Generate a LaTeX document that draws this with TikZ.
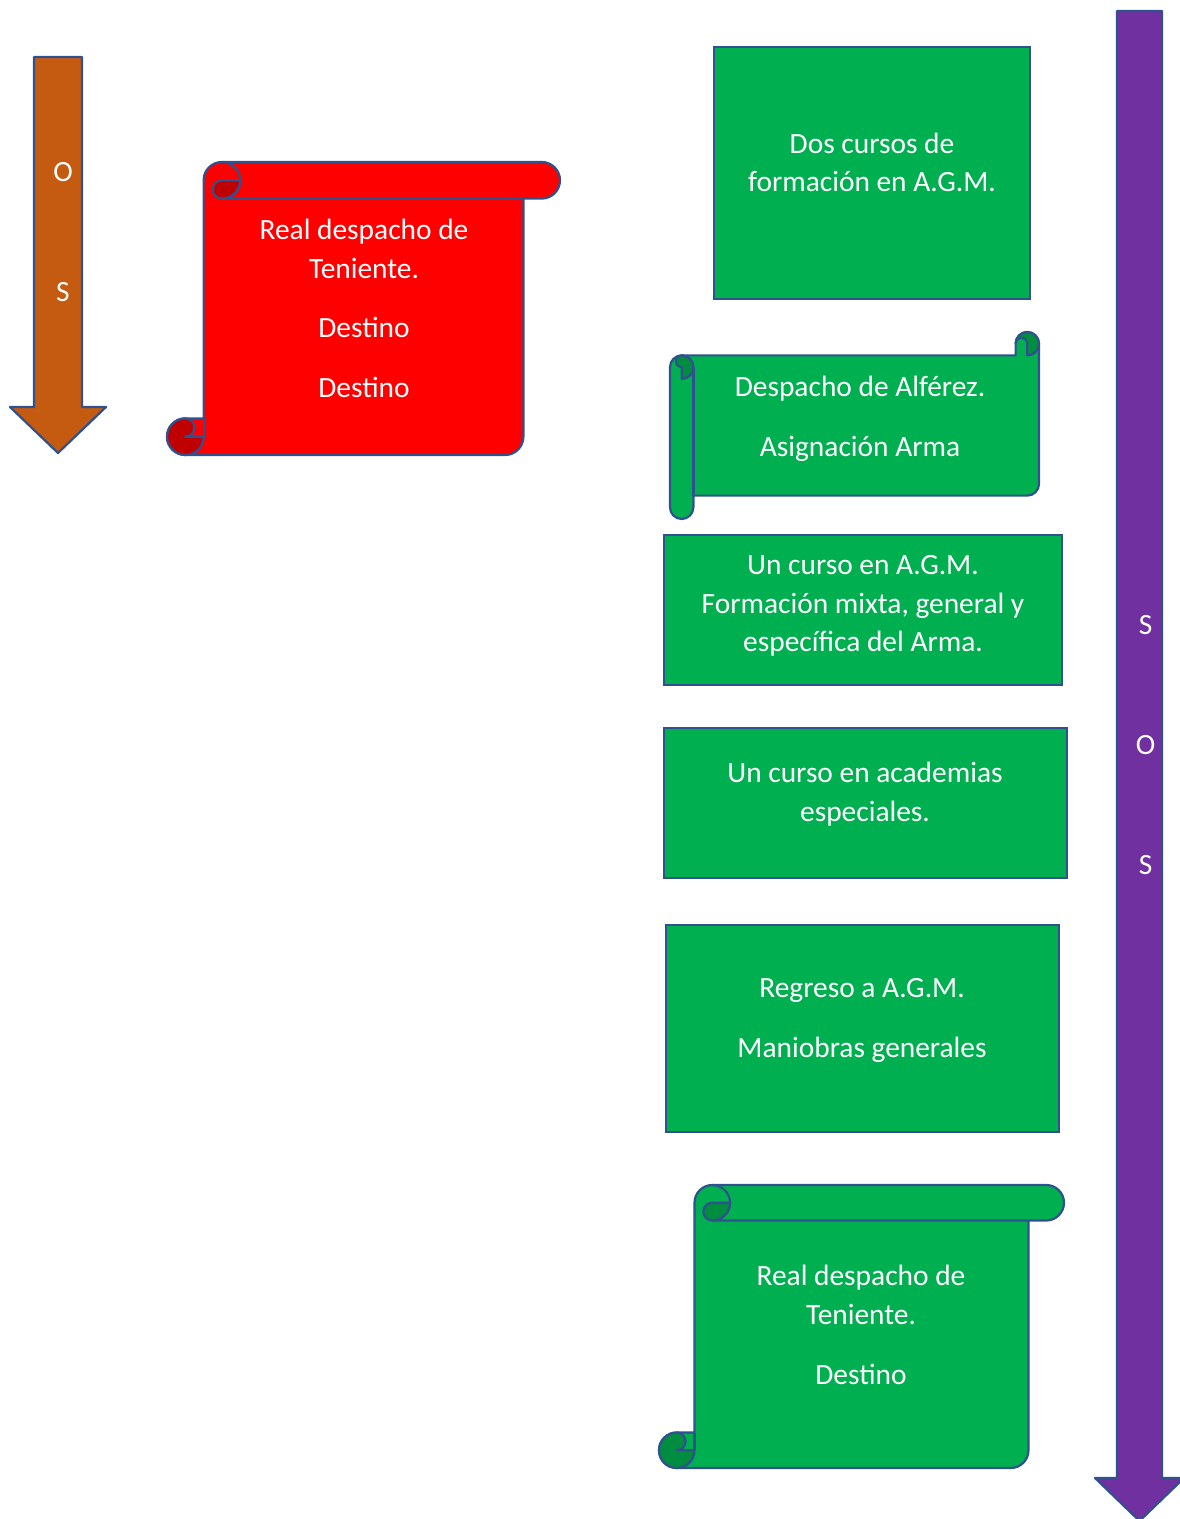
\documentclass[tikz,border=0pt]{standalone}
\usepackage{fontspec}
\setmainfont{Carlito}
\definecolor{bordc}{HTML}{2F528F}
\definecolor{grn}{HTML}{00B050}
\definecolor{grnd}{HTML}{008D40}
\definecolor{redm}{HTML}{FF0000}
\definecolor{redd}{HTML}{C00000}
\definecolor{orng}{HTML}{C55A11}
\definecolor{purp}{HTML}{7030A0}
\newcommand\VScroll[7]{%
 \pgfmathsetmacro\myL{#1}\pgfmathsetmacro\myT{#2}\pgfmathsetmacro\myR{#3}\pgfmathsetmacro\myB{#4}%
 \pgfmathsetmacro\myC{#5}\pgfmathsetmacro\myCb{#5/2}\pgfmathsetmacro\myCc{#5/4}%
 \draw[sline,fill=#6] ({\myL+\myCb},\myB) arc (90:270:\myCb) -- ({\myL+\myC},{\myB-\myC}) -- ({\myL+\myC},{\myT+\myCb}) arc (180:270:\myCb) -- ({\myR-\myCb},\myT) arc (270:450:\myCb) -- ({\myR-\myC},{\myT+\myC}) -- ({\myR-\myC},{\myB-\myCb}) arc (0:90:\myCb) -- cycle;
 \draw[sline] ({\myL+\myC+\myCb},\myT) arc (270:450:\myCb) -- ({\myR-\myC},{\myT+\myC});
 \draw[sline,fill=#7] ({\myL+2*\myC},{\myT+\myCb}) -- ({\myL+\myC+\myCb},{\myT+\myCb}) arc (270:90:\myCc) arc (90:0:\myCb) -- cycle;
 \draw[sline,fill=#7] ({\myL+\myCb},{\myB-\myC}) arc (270:0:\myCb) -- ({\myL+\myCb},{\myB-\myCb}) arc (90:-90:\myCc) -- cycle;
 \draw[sline] ({\myL+\myC},{\myB-\myC}) -- ({\myL+\myC},{\myB-\myCb});
}
\newcommand\HScroll[7]{%
 \pgfmathsetmacro\myL{#1}\pgfmathsetmacro\myT{#2}\pgfmathsetmacro\myR{#3}\pgfmathsetmacro\myB{#4}%
 \pgfmathsetmacro\myC{#5}\pgfmathsetmacro\myCb{#5/2}\pgfmathsetmacro\myCc{#5/4}%
 \draw[sline,fill=#6] (\myL,{\myB-\myCb}) -- (\myL,{\myT+\myC+\myCb}) arc (180:270:\myCb) -- ({\myR-\myC},{\myT+\myC}) -- ({\myR-\myC},{\myT+\myCb}) arc (180:360:\myCb) -- (\myR,{\myB-\myC-\myCb}) arc (0:90:\myCb) -- ({\myL+\myC},{\myB-\myC}) -- ({\myL+\myC},{\myB-\myCb}) arc (0:180:\myCb) -- cycle;
 \draw[sline] ({\myL+\myCb},{\myT+\myC}) arc (270:450:\myCb);
 \draw[sline] ({\myL+\myC},{\myT+\myC+\myCb}) -- ({\myL+\myC},{\myB-\myC});
 \draw[sline,fill=#7] ({\myL+\myCb},{\myT+2*\myC}) arc (90:-90:\myCb) arc (270:90:\myCc) -- cycle;
 \draw[sline,fill=#7] ({\myR-\myC},{\myT+\myCb}) arc (180:360:\myCc) -- ({\myR-\myCb},{\myT+\myC}) arc (90:-180:\myCb) -- cycle;
}
\begin{document}
\begin{tikzpicture}[x=0.5pt,y=-0.5pt,
  sline/.style={draw=bordc,line width=1.1pt,line join=round},
  gbox/.style={rectangle,draw=bordc,line width=1.1pt,fill=grn,inner sep=0pt},
  txt/.style={text=white,align=center,inner sep=0pt,font=\fontsize{14.7pt}{19.3pt}\selectfont},
  letters/.style={text=white,align=center,inner sep=0pt,font=\fontsize{14.7pt}{19.3pt}\selectfont}]
\useasboundingbox (0,0) rectangle (1179,1519);
% arrows
\draw[sline,fill=orng] (34,57) -- (82,57) -- (82,407) -- (106,407) -- (58,453) -- (10,407) -- (34,407) -- cycle;
\node[letters] (arrL) at (63,232) {O\\[40.7pt]S};
\draw[sline,fill=purp] (1117,11) -- (1162,11) -- (1162,1478) -- (1184,1478) -- (1139.5,1521) -- (1095,1478) -- (1117,1478) -- cycle;
\node[letters] (arrR) at (1145.5,745) {S\\[40.7pt]O\\[40.7pt]S};
% red scroll
\VScroll{167}{162}{560}{455}{36.6}{redm}{redd}
\node[txt] (red) at (364,308.5) {Real despacho de\\Teniente.\\[10.2pt]Destino\\[10.7pt]Destino};
% green boxes
\node[gbox,minimum width=158pt,minimum height=126pt] (b1) at (872,173) {};
\node[txt] (t1) at (872,162.5) {Dos cursos de\\formación en A.G.M.};
\HScroll{670}{332}{1039}{519}{23.4}{grn}{grnd}
\node[txt] (t2) at (860,418.5) {Despacho de Alférez.\\[10.7pt]Asignación Arma};
\node[gbox,minimum width=199pt,minimum height=75pt] (b3) at (863,610) {};
\node[txt] (t3) at (863,606) {Un curso en A.G.M.\\Formación mixta, general y\\específica del Arma.};
\node[gbox,minimum width=201.5pt,minimum height=75pt] (b4) at (865.5,803) {};
\node[txt] (t4) at (865,794) {Un curso en academias\\especiales.};
\node[gbox,minimum width=196.5pt,minimum height=103.5pt] (b5) at (862.5,1028.5) {};
\node[txt] (t5) at (862,1020) {Regreso a A.G.M.\\[10.7pt]Maniobras generales};
\VScroll{659}{1185}{1064}{1468}{35.5}{grn}{grnd}
\node[txt] (t6) at (861,1325) {Real despacho de\\Teniente.\\[10.7pt]Destino};
\end{tikzpicture}
\end{document}
